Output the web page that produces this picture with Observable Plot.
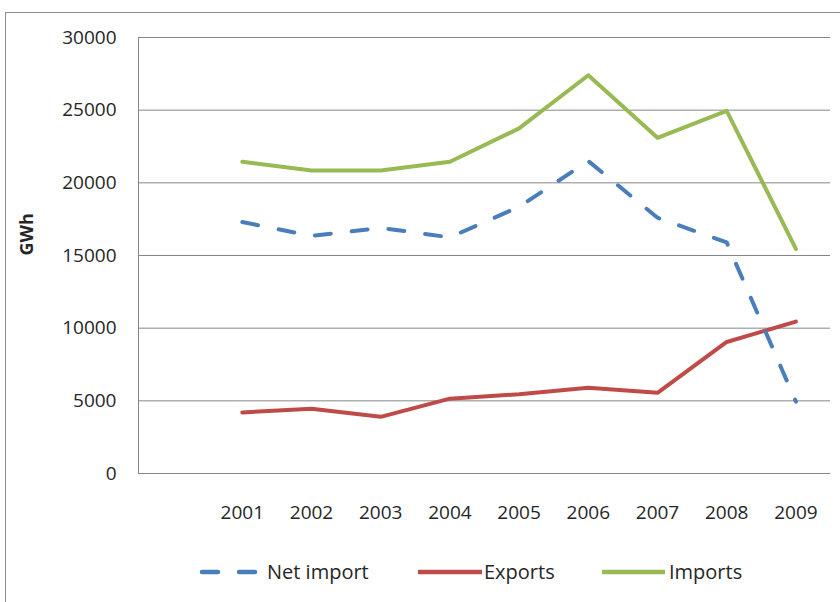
<!DOCTYPE html>
<html><head><meta charset="utf-8">
<script src="https://cdn.jsdelivr.net/npm/d3@7"></script>
<script src="https://cdn.jsdelivr.net/npm/@observablehq/plot@0.6"></script>
<style>
body{margin:0;background:#fff;font-family:"Open Sans",sans-serif;}
#wrap{position:relative;width:840px;height:602px;overflow:hidden;background:#fff;}
#frame{position:absolute;left:5px;top:12px;width:900px;height:700px;border:1px solid #8c8c8c;box-sizing:border-box;}
#chart{position:absolute;left:0;top:0;}
.leg{position:absolute;top:558px;height:28px;line-height:28px;font-size:20px;color:#262626;white-space:nowrap;}
</style></head>
<body>
<div id="wrap"><div id="frame"></div><div id="chart"></div><div id="legend"></div></div>
<script>
const years = [2001, 2002, 2003, 2004, 2005, 2006, 2007, 2008, 2009];
const netImport = [17300, 16350, 16900, 16250, 18350, 21500, 17600, 15900, 4950];
const exportsGWh = [4200, 4450, 3900, 5150, 5450, 5900, 5550, 9050, 10450];
const importsGWh = [21450, 20850, 20850, 21450, 23750, 27400, 23100, 24950, 15450];
const seriesNames = ["Net import", "Exports", "Imports"];
const seriesColors = ["#4A7EBB", "#BE4B48", "#98B954"];
const yTicks = [0, 5000, 10000, 15000, 20000, 25000, 30000];
const yLabel = "GWh";

const chart = Plot.plot({
  width: 840, height: 602,
  marginLeft: 138, marginRight: 10, marginTop: 37, marginBottom: 129,
  x: {type: "linear", domain: [1999.5, 2009.5]},
  y: {domain: [0, 30000]},
  style: {fontFamily: "Open Sans", fontSize: "19px", color: "#262626", background: "transparent"},
  marks: [
    Plot.gridY(yTicks, {stroke: "#868686", strokeOpacity: 1, strokeWidth: 1}),
    Plot.ruleX([1999.5], {stroke: "#868686", strokeWidth: 1}),
    Plot.axisY(yTicks, {tickSize: 0, tickPadding: 22, tickFormat: d => String(d), label: null, fontSize: 19}),
    Plot.axisX(years, {tickSize: 0, tickPadding: 32, tickFormat: d => String(d), label: null, fontSize: 19}),
    Plot.line(years, {x: d => d, y: importsGWh, stroke: seriesColors[2], strokeWidth: 4}),
    Plot.line(years, {x: d => d, y: exportsGWh, stroke: seriesColors[1], strokeWidth: 4}),
    Plot.line(years, {x: d => d, y: netImport, stroke: seriesColors[0], strokeWidth: 4, strokeDasharray: "16,21", strokeLinecap: "round"}),
    Plot.text([yLabel], {frameAnchor: "left", dx: -111, rotate: -90, fontWeight: "bold", fontSize: 18, fill: "#262626"})
  ]
});
document.getElementById("chart").appendChild(chart);

// legend
const legendItems = [
  {name: seriesNames[0], color: seriesColors[0], x1: 200, x2: 258, tx: 267, dash: "16,21"},
  {name: seriesNames[1], color: seriesColors[1], x1: 418, x2: 482, tx: 484, dash: null},
  {name: seriesNames[2], color: seriesColors[2], x1: 602, x2: 665, tx: 669, dash: null}
];
const legend = document.getElementById("legend");
for (const it of legendItems) {
  const svgNS = "http://www.w3.org/2000/svg";
  const s = document.createElementNS(svgNS, "svg");
  s.setAttribute("width", it.x2 - it.x1 + 6);
  s.setAttribute("height", 28);
  s.style.position = "absolute";
  s.style.left = (it.x1 - 3) + "px";
  s.style.top = "558px";
  const l = document.createElementNS(svgNS, "line");
  l.setAttribute("x1", it.dash ? 5 : 3);
  l.setAttribute("x2", it.x2 - it.x1 + 3);
  l.setAttribute("y1", 14); l.setAttribute("y2", 14);
  l.setAttribute("stroke", it.color);
  l.setAttribute("stroke-width", 4.5);
  if (it.dash) { l.setAttribute("stroke-dasharray", it.dash); l.setAttribute("stroke-linecap", "round"); }
  s.appendChild(l);
  legend.appendChild(s);
  const t = document.createElement("div");
  t.className = "leg";
  t.style.left = it.tx + "px";
  t.textContent = it.name;
  legend.appendChild(t);
}
</script>
</body></html>
